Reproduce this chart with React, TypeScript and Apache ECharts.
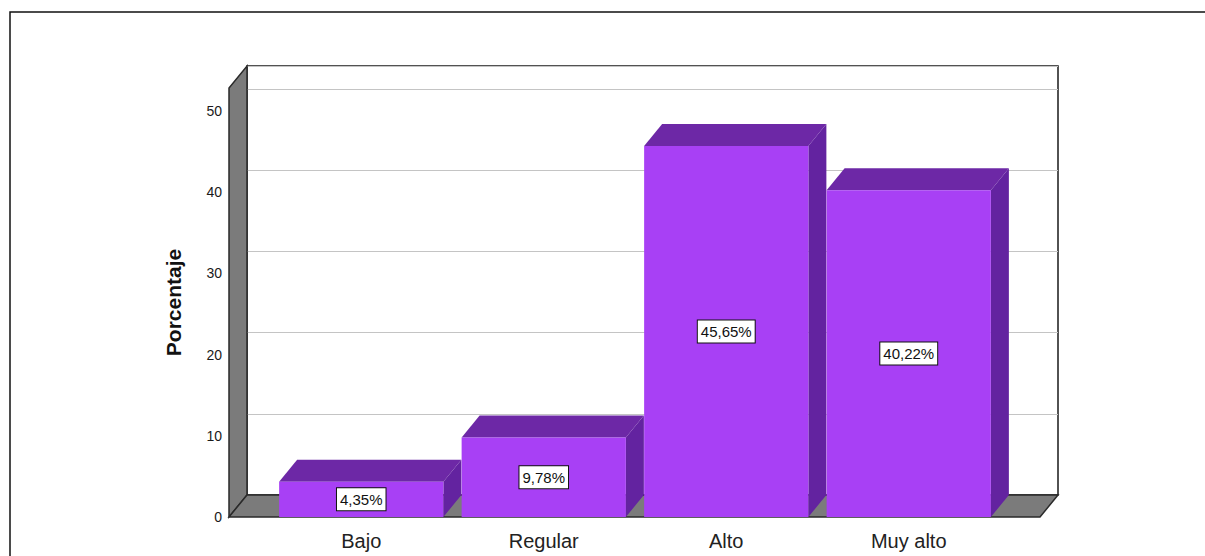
import React, { useEffect, useRef } from "react";
import * as echarts from "echarts";

const categories = ["Bajo", "Regular", "Alto", "Muy alto"];
const percentages = [4.35, 9.78, 45.65, 40.22];
const yMax = 52.8;
const yInterval = 10;

// layout constants (pixels)
const DX = 18;
const DY = -22;
const FRONT_LEFT = 229;
const FRONT_RIGHT = 1040;
const FRONT_TOP = 88;
const FRONT_BOTTOM = 517;
const W = 1205;
const H = 556;

const fmt = (v: number) => v.toFixed(2).replace(".", ",") + "%";

export default function App() {
  const ref = useRef<HTMLDivElement>(null);
  useEffect(() => {
    if (!ref.current) return;
    const chart = echarts.init(ref.current, null, { renderer: "svg" });
    const font = "Arial, 'Liberation Sans', sans-serif";
    const backLeft = FRONT_LEFT + DX;
    const backRight = FRONT_RIGHT + DX;
    const backTop = FRONT_TOP + DY;
    const backBottom = FRONT_BOTTOM + DY;
    const option: any = {
      animation: false,
      backgroundColor: "#ffffff",
      grid: [
        // front frame (tick labels)
        { left: FRONT_LEFT, right: W - FRONT_RIGHT, top: FRONT_TOP, bottom: H - FRONT_BOTTOM },
        // back wall
        {
          left: backLeft,
          right: W - backRight,
          top: backTop,
          bottom: H - backBottom,
          show: true,
          backgroundColor: "#ffffff",
          borderColor: "#1a1a1a",
          borderWidth: 1.5,
        },
        // bars
        { left: 270, right: W - 1000, top: FRONT_TOP, bottom: H - FRONT_BOTTOM },
      ],
      xAxis: [
        { gridIndex: 0, type: "value", show: false, min: 0, max: 1 },
        { gridIndex: 1, type: "value", show: false, min: 0, max: 1 },
        {
          gridIndex: 2,
          type: "category",
          data: categories,
          axisLine: { show: false },
          axisTick: { show: false },
          axisLabel: { color: "#222", fontSize: 20, fontFamily: font, margin: 14 },
        },
      ],
      yAxis: [
        {
          gridIndex: 0,
          type: "value",
          min: 0,
          max: yMax,
          interval: yInterval,
          axisLine: { show: false },
          axisTick: { show: false },
          splitLine: { show: false },
          axisLabel: { color: "#1a1a1a", fontSize: 14, fontFamily: font, margin: 7, showMaxLabel: false },
          name: "Porcentaje",
          nameLocation: "middle",
          nameGap: 45,
          nameTextStyle: { color: "#111", fontSize: 21, fontWeight: "bold", fontFamily: font },
        },
        {
          gridIndex: 1,
          type: "value",
          min: 0,
          max: yMax,
          interval: yInterval,
          axisLine: { show: false },
          axisTick: { show: false },
          axisLabel: { show: false },
          splitLine: { show: true, lineStyle: { color: "#c4c4c4", width: 1 } },
        },
        { gridIndex: 2, type: "value", min: 0, max: yMax, show: false, splitLine: { show: false } },
      ],
      graphic: [
        {
          type: "rect",
          z: 1,
          shape: { x: 10, y: 12, width: 1400, height: 800 },
          style: { fill: "none", stroke: "#111", lineWidth: 1.5 },
        },
        {
          type: "polygon",
          z: 1,
          shape: {
            points: [
              [FRONT_LEFT, FRONT_BOTTOM],
              [FRONT_LEFT, FRONT_TOP],
              [backLeft, backTop],
              [backLeft, backBottom],
            ],
          },
          style: { fill: "#7b7b7b", stroke: "#2a2a2a", lineWidth: 1.5 },
        },
        {
          type: "polygon",
          z: 1,
          shape: {
            points: [
              [FRONT_LEFT, FRONT_BOTTOM],
              [FRONT_RIGHT, FRONT_BOTTOM],
              [backRight, backBottom],
              [backLeft, backBottom],
            ],
          },
          style: { fill: "#7b7b7b", stroke: "#2a2a2a", lineWidth: 1.5 },
        },
      ],
      series: [
        {
          type: "custom",
          xAxisIndex: 2,
          yAxisIndex: 2,
          z: 5,
          data: percentages.map((v, i) => [i, v]),
          renderItem: (params: any, api: any) => {
            const idx = api.value(0);
            const v = api.value(1);
            const base = api.coord([idx, 0]);
            const top = api.coord([idx, v]);
            const band = api.size([1, 0])[0];
            const w = band * 0.9;
            const x0 = top[0] - w / 2;
            const x1 = x0 + w;
            const yT = top[1];
            const yB = base[1];
            return {
              type: "group",
              children: [
                {
                  type: "polygon",
                  shape: {
                    points: [
                      [x1, yT],
                      [x1 + DX, yT + DY],
                      [x1 + DX, yB + DY],
                      [x1, yB],
                    ],
                  },
                  style: { fill: "#6323a0" },
                },
                {
                  type: "polygon",
                  shape: {
                    points: [
                      [x0, yT],
                      [x0 + DX, yT + DY],
                      [x1 + DX, yT + DY],
                      [x1, yT],
                    ],
                  },
                  style: { fill: "#6d28a6" },
                },
                {
                  type: "rect",
                  shape: { x: x0, y: yT, width: w, height: yB - yT },
                  style: { fill: "#a840f5" },
                },
                {
                  type: "text",
                  x: (x0 + x1) / 2,
                  y: (yT + yB) / 2,
                  style: {
                    text: fmt(v),
                    fill: "#111",
                    font: "15px " + font,
                    align: "center",
                    verticalAlign: "middle",
                    backgroundColor: "#ffffff",
                    borderColor: "#111",
                    borderWidth: 1,
                    padding: [4, 3, 3, 3],
                  },
                },
              ],
            };
          },
        },
      ],
    };
    chart.setOption(option);
    return () => chart.dispose();
  }, []);
  return (
    <div
      ref={ref}
      style={{ position: "absolute", left: 0, top: 0, width: W, height: H, background: "#fff" }}
    />
  );
}
